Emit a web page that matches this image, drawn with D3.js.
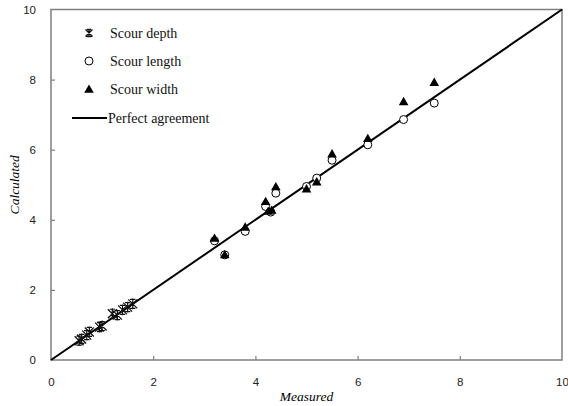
<!DOCTYPE html>
<html><head><meta charset="utf-8">
<script src="https://cdn.jsdelivr.net/npm/d3@7"></script>
<style>body{margin:0;background:#fff}svg{display:block}</style>
</head><body>
<script>
const xTicks = [0, 2, 4, 6, 8, 10];
const yTicks = [0, 2, 4, 6, 8, 10];
const depthMeasured = [0.55, 0.6, 0.7, 0.75, 0.95, 1.0, 1.2, 1.3, 1.4, 1.5, 1.6];
const depthCalculated = [0.55, 0.6, 0.71, 0.8, 0.94, 0.97, 1.32, 1.28, 1.43, 1.51, 1.6];
const lengthMeasured = [3.2, 3.4, 3.8, 4.2, 4.3, 4.4, 5.0, 5.2, 5.5, 6.2, 6.9, 7.5];
const lengthCalculated = [3.4, 3.0, 3.67, 4.38, 4.22, 4.76, 4.95, 5.19, 5.7, 6.14, 6.86, 7.33];
const widthMeasured = [3.2, 3.4, 3.8, 4.2, 4.25, 4.32, 4.4, 5.0, 5.2, 5.5, 6.2, 6.9, 7.5];
const widthCalculated = [3.45, 2.98, 3.77, 4.5, 4.22, 4.25, 4.92, 4.86, 5.06, 5.86, 6.3, 7.35, 7.9];
const legendLabels = ["Scour depth", "Scour length", "Scour width", "Perfect agreement"];

const W = 568, H = 406;
const m = {left: 51, right: 6, top: 9.5, bottom: 46};
const svg = d3.select("body").append("svg").attr("width", W).attr("height", H);
const x = d3.scaleLinear().domain([0, 10]).range([m.left, W - m.right]);
const y = d3.scaleLinear().domain([0, 10]).range([H - m.bottom, m.top]);

// frame
svg.append("rect").attr("x", x(0)).attr("y", y(10)).attr("width", x(10) - x(0)).attr("height", y(0) - y(10))
  .attr("fill", "none").attr("stroke", "#7f7f7f").attr("stroke-width", 1.5);

// axes
const xAxis = svg.append("g").attr("transform", `translate(0,${y(0)})`)
  .call(d3.axisBottom(x).tickValues(xTicks).tickSize(-4).tickPadding(18).tickFormat(d3.format("d")));
const yAxis = svg.append("g").attr("transform", `translate(${x(0)},0)`)
  .call(d3.axisLeft(y).tickValues(yTicks).tickSize(-4).tickPadding(15).tickFormat(d3.format("d")));
[xAxis, yAxis].forEach(g => {
  g.select(".domain").remove();
  g.selectAll(".tick line").attr("stroke", "#7f7f7f").attr("stroke-width", 1.2);
  g.selectAll(".tick text").attr("fill", "#222").style("font-family", "Liberation Sans, Arial, sans-serif").style("font-size", "11.5px");
});
xAxis.selectAll(".tick").filter(d => d === 0 || d === 10).select("line").remove();
yAxis.selectAll(".tick").filter(d => d === 0 || d === 10).select("line").remove();

// perfect agreement line
svg.append("line").attr("x1", x(0)).attr("y1", y(0)).attr("x2", x(10)).attr("y2", y(10))
  .attr("stroke", "#000").attr("stroke-width", 2);

function starPath(s) {
  return `M${-s},${-s}L${s},${s}M${-s},${s}L${s},${-s}M0,${-s * 1.2}L0,${s * 1.2}M${-s*0.6},${-s}L${s*0.6},${-s}M${-s*0.6},${s}L${s*0.6},${s}`;
}
function drawStar(g, px, py, s, w) {
  g.append("path").attr("transform", `translate(${px},${py})`).attr("d", starPath(s))
    .attr("fill", "none").attr("stroke", "#111").attr("stroke-width", w);
}
const tri = d3.symbol().type(d3.symbolTriangle).size(40);

const pts = svg.append("g");
depthMeasured.forEach((v, i) => drawStar(pts, x(v), y(depthCalculated[i]), 4.5, 1.2));
lengthMeasured.forEach((v, i) => pts.append("circle").attr("cx", x(v)).attr("cy", y(lengthCalculated[i])).attr("r", 4)
  .attr("fill", "#fff").attr("stroke", "#000").attr("stroke-width", 1));
widthMeasured.forEach((v, i) => pts.append("path").attr("transform", `translate(${x(v)},${y(widthCalculated[i])})`)
  .attr("d", tri).attr("fill", "#000"));

// legend
const lg = svg.append("g").style("font-family", "Liberation Serif, Times New Roman, serif").style("font-size", "14px");
const ly = [33, 61, 89, 118];
drawStar(lg, 89, ly[0], 3.5, 1.3);
lg.append("circle").attr("cx", 89).attr("cy", ly[1]).attr("r", 4).attr("fill", "#fff").attr("stroke", "#000");
lg.append("path").attr("transform", `translate(89,${ly[2] + 1})`).attr("d", tri).attr("fill", "#000");
lg.append("line").attr("x1", 72).attr("x2", 107).attr("y1", ly[3]).attr("y2", ly[3]).attr("stroke", "#000").attr("stroke-width", 2);
legendLabels.forEach((t, i) => lg.append("text").attr("x", i === 3 ? 108 : 110).attr("y", ly[i]).attr("dy", "0.35em").attr("fill", "#111").text(t));

// axis titles
svg.append("text").attr("x", (x(0) + x(10)) / 2).attr("y", 401).attr("text-anchor", "middle")
  .style("font-family", "Liberation Serif, Times New Roman, serif").style("font-style", "italic").style("font-size", "13.5px").text("Measured");
svg.append("text").attr("transform", `translate(19,${(y(0) + y(10)) / 2}) rotate(-90)`).attr("text-anchor", "middle")
  .style("font-family", "Liberation Serif, Times New Roman, serif").style("font-style", "italic").style("font-size", "13.5px").text("Calculated");
</script>
</body></html>
